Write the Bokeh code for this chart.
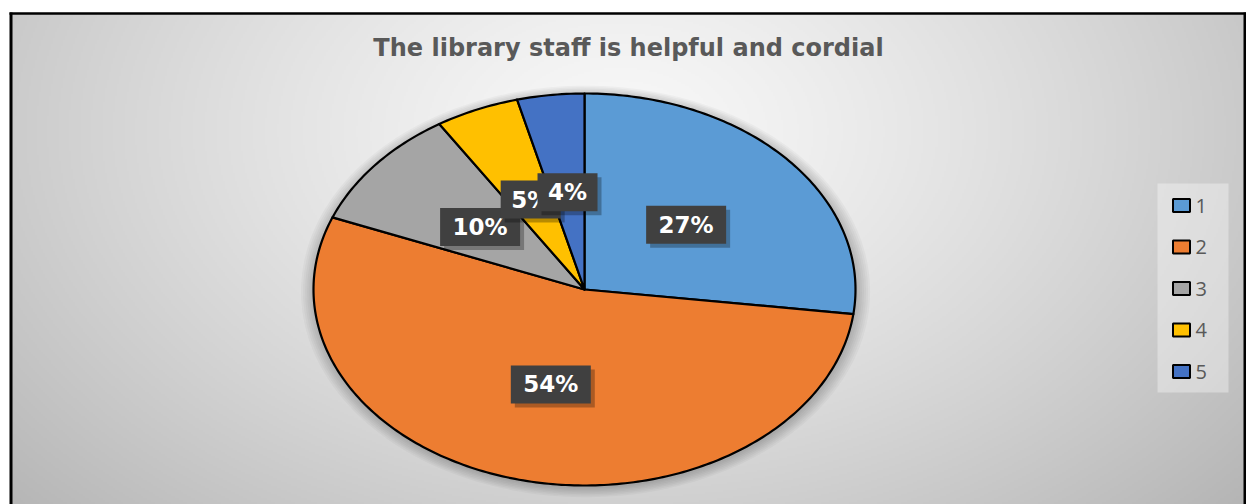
import numpy as np
from bokeh.plotting import figure
from bokeh.models import Range1d
from bokeh.core.properties import value
from bokeh.embed import file_html
from bokeh.resources import INLINE

# ---- data ----
title = "The library staff is helpful and cordial"
categories = ["1", "2", "3", "4", "5"]
percents = [27, 54, 10, 5, 4]
labels = ["27%", "54%", "10%", "5%", "4%"]
colors = ["#5B9BD5", "#ED7D31", "#A5A5A5", "#FFC000", "#4472C4"]

# ---- geometry (screen pixels -> data units; pie is unit circle) ----
W, H = 1246, 504
OFF = 0                # observed page offset of the canvas
CX, CY = 584, 289      # screen px of pie centre
RX, RY = 271, 196      # pie radii in px


def X(px):
    return (px - CX) / RX


def Y(py):
    return (CY - py) / RY


p = figure(width=W, height=H, output_backend="svg", toolbar_location=None,
           x_range=Range1d(X(OFF), X(OFF + W)), y_range=Range1d(Y(OFF + H), Y(OFF)),
           x_axis_type=None, y_axis_type=None, min_border=0,
           outline_line_color=None, background_fill_color="white",
           border_fill_color="white")
p.grid.visible = False

# ---- background radial gradient ----
nx, ny = 617, 246
gx = np.linspace(10, 1246, nx)
gy = np.linspace(504, 13, ny)          # row 0 = bottom
GX, GY = np.meshgrid(gx, gy)
t = np.sqrt(((GX - 620) / 720.0) ** 2 + ((GY - 130) / 480.0) ** 2)
v = np.clip(248 - 55 * t ** 1.3, 170, 250).astype(np.uint32)
img = (255 << 24) | (v << 16) | (v << 8) | v
p.image_rgba(image=[img.astype(np.uint32)], x=X(10), y=Y(504),
             dw=X(1246) - X(10), dh=Y(13) - Y(504))

# ---- soft shadow around pie ----
ang = np.linspace(0, 2 * np.pi, 200)
for s in np.linspace(1.05, 1.005, 7):
    p.patch(s * np.sin(ang) + 0.004, s * np.cos(ang) - 0.01, fill_color="black",
            fill_alpha=0.03, line_color=None)

# ---- pie slices ----
total = float(sum(percents))
xs, ys, mids = [], [], []
cum = 0.0
for pc in percents:
    a0 = cum / total * 2 * np.pi
    a1 = (cum + pc) / total * 2 * np.pi
    n = max(3, int(pc * 4))
    th = np.linspace(a0, a1, n)
    xs.append([0.0] + list(np.sin(th)))
    ys.append([0.0] + list(np.cos(th)))
    mids.append((a0 + a1) / 2)
    cum += pc
p.patches(xs, ys, fill_color=colors, line_color="black", line_width=2.2,
          line_join="round")

# ---- data labels ----
for lab, m in zip(labels, mids):
    lx, ly = 0.5 * np.sin(m), 0.5 * np.cos(m)
    bw = 80 if len(lab) > 2 else 60
    p.rect(x=[lx + 4 / RX], y=[ly - 4 / RY], width=bw, height=38,
           width_units="screen", height_units="screen",
           fill_color="black", fill_alpha=0.28, line_color=None)
    p.rect(x=[lx], y=[ly], width=bw, height=38, width_units="screen",
           height_units="screen", fill_color="#404040", line_color=None)
    p.text(x=[lx], y=[ly], text=[lab], text_color="white",
           text_font=value("DejaVu Sans"), text_font_style="bold",
           text_font_size="23px", text_align="center", text_baseline="middle")

# ---- legend ----
p.quad(left=X(1157), right=X(1228), top=Y(183), bottom=Y(392),
       fill_color="white", fill_alpha=0.35, line_color=None)
ly_px = [205 + 41.5 * i for i in range(len(categories))]
p.rect(x=[X(1181)] * len(categories), y=[Y(v_) for v_ in ly_px], width=17,
       height=13, width_units="screen", height_units="screen",
       fill_color=colors, line_color="black", line_width=2)
p.text(x=[X(1195)] * len(categories), y=[Y(v_) for v_ in ly_px], text=categories,
       text_color="#595959", text_font=value("Open Sans"),
       text_font_size="20px", text_align="left", text_baseline="middle")

# ---- title ----
p.text(x=[X(628)], y=[Y(47)], text=[title], text_color="#595959",
       text_font=value("DejaVu Sans"), text_font_style="bold",
       text_font_size="24px", text_align="center", text_baseline="middle")

# ---- chart border ----
p.line([X(10.5), X(10.5)], [Y(12), Y(510)], line_color="black", line_width=3)
p.line([X(9), X(1250)], [Y(13), Y(13)], line_color="black", line_width=2.5)
p.line([X(1244.5), X(1244.5)], [Y(12), Y(510)], line_color="black", line_width=3)

open("out.html", "w").write(file_html(p, INLINE))
